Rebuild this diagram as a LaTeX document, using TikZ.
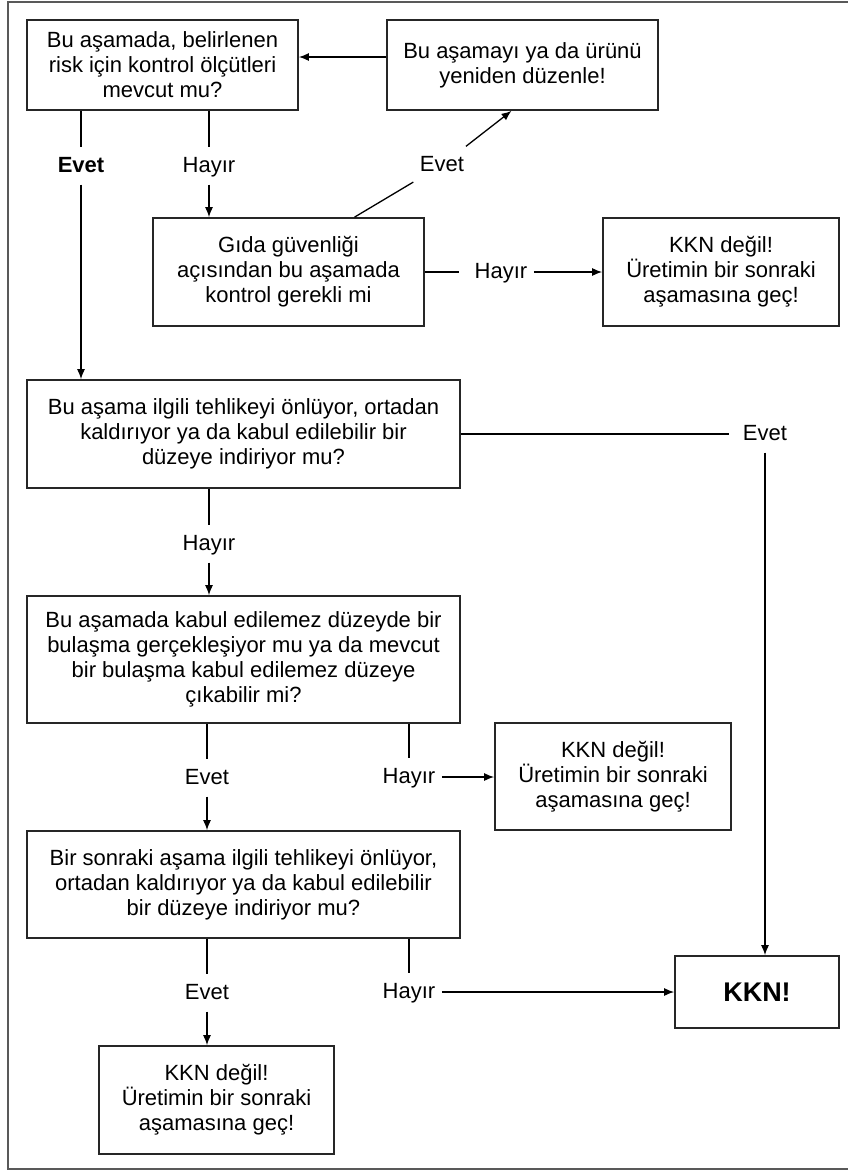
\documentclass[tikz,border=0pt]{standalone}
\usepackage{fontspec}
\setmainfont{Liberation Sans}
\usetikzlibrary{arrows.meta}

\begin{document}
\begin{tikzpicture}[x=1pt,y=-1pt,line width=1.3pt,
	font=\fontsize{22}{25}\selectfont,
	>={Latex[length=10pt,width=8pt]},
	kutu/.style = {draw=black!85,line width=1.7pt,align=center,inner sep=0pt},
	etiket/.style = {inner xsep=6pt,inner ysep=0pt,minimum height=36pt,text height=16pt,text depth=4pt}]
	\useasboundingbox (0,0) rectangle (848,1171);
	\draw[black!65,line width=1.5pt] (848,2) -- (8,2) -- (8,1169) -- (848,1169);

	\node[kutu,minimum width=271pt,minimum height=90pt] (olcut) at (162.5,65) {Bu aşamada, belirlenen\\risk için kontrol ölçütleri\\mevcut mu?};
	\node[kutu,minimum width=271pt,minimum height=90pt] (duzenle) at (522.5,65) {Bu aşamayı ya da ürünü\\yeniden düzenle!};
	\node[kutu,minimum width=271pt,minimum height=108pt] (gerekli) at (288.5,272) {Gıda güvenliği\\açısından bu aşamada\\kontrol gerekli mi};
	\node[kutu,minimum width=236pt,minimum height=108pt] (degilA) at (721,272) {KKN değil!\\Üretimin bir sonraki\\aşamasına geç!};
	\node[kutu,minimum width=433pt,minimum height=108pt] (tehlike) at (243.5,434) {Bu aşama ilgili tehlikeyi önlüyor, ortadan\\kaldırıyor ya da kabul edilebilir bir\\düzeye indiriyor mu?};
	\node[kutu,minimum width=433pt,minimum height=127pt] (bulasma) at (243.5,659.5) {Bu aşamada kabul edilemez düzeyde bir\\bulaşma gerçekleşiyor mu ya da mevcut\\bir bulaşma kabul edilemez düzeye\\çıkabilir mi?};
	\node[kutu,minimum width=236pt,minimum height=107pt] (degilB) at (613,776.5) {KKN değil!\\Üretimin bir sonraki\\aşamasına geç!};
	\node[kutu,minimum width=433pt,minimum height=107pt] (sonraki) at (243.5,884.5) {Bir sonraki aşama ilgili tehlikeyi önlüyor,\\ortadan kaldırıyor ya da kabul edilebilir\\bir düzeye indiriyor mu?};
	\node[kutu,minimum width=235pt,minimum height=108pt] (degilC) at (216.5,1100) {KKN değil!\\Üretimin bir sonraki\\aşamasına geç!};
	\node[kutu,minimum width=164pt,minimum height=72pt,font=\fontsize{27}{30}\selectfont\bfseries] (kkn) at (757,992) {KKN!};

	\node[etiket,font=\fontsize{22}{25}\selectfont\bfseries] (evetA) at (81,166) {Evet};
	\node[etiket] (hayirA) at (209,166) {Hayır};
	\node[etiket] (evetB) at (442,165) {Evet};
	\node[etiket] (hayirB) at (501,272) {Hayır};
	\node[etiket] (evetC) at (765,434) {Evet};
	\node[etiket] (hayirC) at (209,544) {Hayır};
	\node[etiket] (evetD) at (207,778) {Evet};
	\node[etiket] (hayirD) at (409,777) {Hayır};
	\node[etiket] (evetE) at (207,993) {Evet};
	\node[etiket] (hayirE) at (409,992) {Hayır};

	\draw[->] ([yshift=8pt]duzenle.west) -- ([yshift=8pt]olcut.east);
	\draw (olcut.south -| evetA) -- (evetA);
	\draw[->] (evetA) -- (tehlike.north -| evetA);
	\draw (olcut.south -| hayirA) -- (hayirA);
	\draw[->] (hayirA) -- (gerekli.north -| hayirA);
	\draw ([xshift=66pt]gerekli.north) -- (evetB);
	\draw[->] (evetB) -- ([xshift=-11pt]duzenle.south);
	\draw[shorten >=9pt] (gerekli) -- (hayirB);
	\draw[->] (hayirB) -- (degilA);
	\draw[shorten >=7pt] (tehlike) -- (evetC);
	\draw[->] (evetC) -- (kkn.north -| evetC);
	\draw (tehlike.south -| hayirC) -- (hayirC);
	\draw[->] (hayirC) -- (bulasma.north -| hayirC);
	\draw (bulasma.south -| evetD) -- (evetD);
	\draw[->] (evetD) -- (sonraki.north -| evetD);
	\draw (bulasma.south -| hayirD) -- (hayirD);
	\draw[->] (hayirD) -- (degilB.west |- hayirD);
	\draw (sonraki.south -| evetE) -- (evetE);
	\draw[->] (evetE) -- (degilC.north -| evetE);
	\draw (sonraki.south -| hayirE) -- (hayirE);
	\draw[->] (hayirE) -- (kkn.west |- hayirE);
\end{tikzpicture}
\end{document}
